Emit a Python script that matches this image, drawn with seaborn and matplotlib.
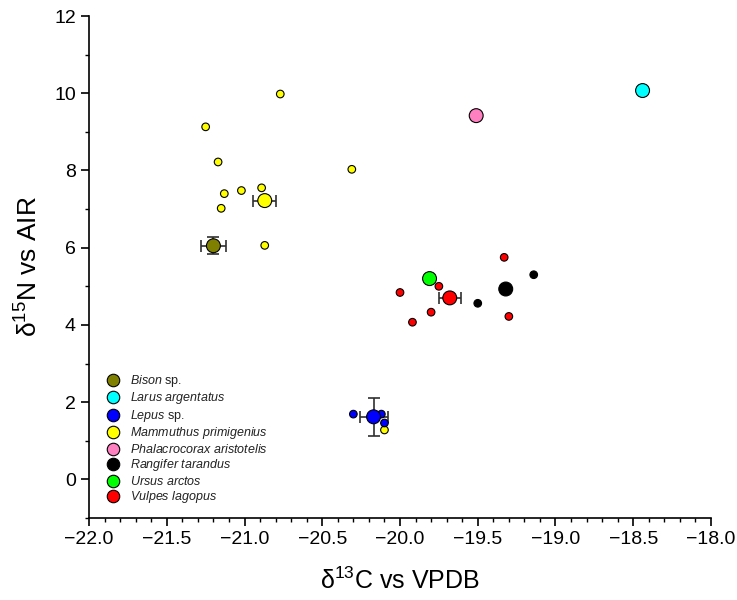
import matplotlib
matplotlib.use("Agg")
import matplotlib.pyplot as plt
from matplotlib.ticker import MultipleLocator
from matplotlib.lines import Line2D
import seaborn as sns
import pandas as pd

species = ["Bison sp.", "Larus argentatus", "Lepus sp.", "Mammuthus primigenius",
           "Phalacrocorax aristotelis", "Rangifer tarandus", "Ursus arctos", "Vulpes lagopus"]
labels = [r"$\mathit{Bison}$ sp.", r"$\mathit{Larus\ argentatus}$", r"$\mathit{Lepus}$ sp.",
          r"$\mathit{Mammuthus\ primigenius}$", r"$\mathit{Phalacrocorax\ aristotelis}$",
          r"$\mathit{Rangifer\ tarandus}$", r"$\mathit{Ursus\ arctos}$", r"$\mathit{Vulpes\ lagopus}$"]
colors = ["#808000", "#00ffff", "#0000ff", "#ffff00", "#ff80c0", "#000000", "#00ff00", "#ff0000"]

# individual specimens
ind_species = (["Mammuthus primigenius"] * 10 + ["Lepus sp."] * 3
               + ["Vulpes lagopus"] * 6 + ["Rangifer tarandus"] * 2)
ind_d13c = [-20.77, -21.25, -21.17, -20.31, -21.13, -21.02, -20.89, -21.15, -20.87, -20.10,
            -20.30, -20.12, -20.10,
            -20.00, -19.75, -19.80, -19.92, -19.33, -19.30,
            -19.50, -19.14]
ind_d15n = [9.98, 9.13, 8.22, 8.03, 7.40, 7.48, 7.55, 7.02, 6.06, 1.28,
            1.69, 1.69, 1.46,
            4.84, 5.00, 4.33, 4.07, 5.75, 4.22,
            4.56, 5.30]

# species means with errors
mean_d13c = [-21.20, -18.44, -20.17, -20.87, -19.51, -19.32, -19.81, -19.68]
mean_d15n = [6.05, 10.07, 1.62, 7.22, 9.42, 4.93, 5.20, 4.70]
mean_xerr = [0.08, 0.0, 0.09, 0.075, 0.0, 0.0, 0.0, 0.07]
mean_yerr = [0.22, 0.0, 0.50, 0.0, 0.0, 0.0, 0.0, 0.0]

ind = pd.DataFrame({"species": ind_species, "d13C": ind_d13c, "d15N": ind_d15n})
means = pd.DataFrame({"species": species, "d13C": mean_d13c, "d15N": mean_d15n,
                      "xerr": mean_xerr, "yerr": mean_yerr})
palette = dict(zip(species, colors))

sns.set_style("ticks")
plt.rcParams["font.family"] = ["Liberation Sans", "DejaVu Sans"]
plt.rcParams["mathtext.fontset"] = "custom"
plt.rcParams["mathtext.rm"] = "Liberation Sans"
plt.rcParams["mathtext.it"] = "Liberation Sans:italic"
plt.rcParams["text.color"] = "black"
plt.rcParams["axes.labelcolor"] = "black"
plt.rcParams["xtick.color"] = "black"
plt.rcParams["ytick.color"] = "black"

fig = plt.figure(figsize=(7.37, 6.0), dpi=100)
ax = fig.add_axes([0.1208, 0.1367, 0.8439, 0.8366])

sns.scatterplot(data=ind, x="d13C", y="d15N", hue="species", palette=palette,
                s=30, edgecolor="black", linewidth=0.8, legend=False, ax=ax, zorder=3)

for _, r in means.iterrows():
    if r["xerr"] > 0 or r["yerr"] > 0:
        ax.errorbar(r["d13C"], r["d15N"],
                    xerr=r["xerr"] if r["xerr"] > 0 else None,
                    yerr=r["yerr"] if r["yerr"] > 0 else None,
                    fmt="none", ecolor="#303030", elinewidth=1.2, capsize=4, capthick=1.2, zorder=2)

sns.scatterplot(data=means, x="d13C", y="d15N", hue="species", palette=palette,
                s=100, edgecolor="black", linewidth=0.8, legend=False, ax=ax, zorder=4)

ax.set_xlim(-22, -18)
ax.set_ylim(-1, 12)
ax.xaxis.set_major_locator(MultipleLocator(0.5))
ax.xaxis.set_minor_locator(MultipleLocator(0.1))
ax.yaxis.set_major_locator(MultipleLocator(2))
ax.yaxis.set_minor_locator(MultipleLocator(1))
ax.xaxis.set_major_formatter(plt.FuncFormatter(lambda v, p: f"{v:.1f}".replace("-", "\u2212")))
ax.tick_params(which="major", direction="out", length=6, width=1.2, labelsize=14,
               color="black", labelcolor="black")
ax.tick_params(which="minor", direction="out", length=3, width=1.0, color="black")
for s in ["top", "right"]:
    ax.spines[s].set_visible(False)
for s in ["left", "bottom"]:
    ax.spines[s].set_linewidth(1.2)
    ax.spines[s].set_color("black")

ax.set_xlabel(r"δ$^{13}$C vs VPDB", fontsize=18, labelpad=14, color="black")
ax.set_ylabel(r"δ$^{15}$N vs AIR", fontsize=19, labelpad=8, color="black")

handles = [Line2D([], [], marker="o", linestyle="none", markersize=9,
                  markerfacecolor=c, markeredgecolor="black", markeredgewidth=0.8) for c in colors]
leg = ax.legend(handles, labels, loc="lower left", bbox_to_anchor=(0.028, 0.025), frameon=False,
                fontsize=9, labelspacing=0.12, handletextpad=0.9, handlelength=1.0, borderpad=0,
                borderaxespad=0)
for t in leg.get_texts():
    t.set_color("#222222")

fig.savefig("out.png", dpi=100)
